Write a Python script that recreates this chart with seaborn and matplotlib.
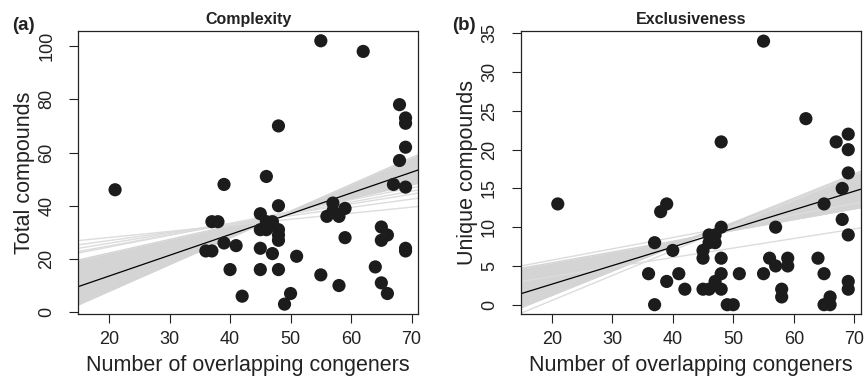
import numpy as np
import matplotlib
matplotlib.use("Agg")
import matplotlib.pyplot as plt
import seaborn as sns

# -----------------------------
# DATA
# -----------------------------
complex_x = [21, 39, 46, 48, 55, 62, 68, 69, 69, 69, 68, 67, 69, 48, 45, 46, 47,
             37, 38, 45, 46, 48, 48, 48, 39, 41, 36, 37, 45, 47, 51, 40, 45, 48,
             42, 50, 49, 55, 57, 57, 56, 58, 59, 59, 58, 65, 66, 65, 64, 65, 66,
             69, 69]
complex_y = [46, 48, 51, 70, 102, 98, 78, 73, 71, 62, 57, 48, 47, 40, 37, 34, 34,
             34, 34, 31, 31, 31, 29, 27, 26, 25, 23, 23, 24, 22, 21, 16, 16, 16,
             6, 7, 3, 14, 41, 38, 36, 36, 39, 28, 10, 32, 29, 27, 17, 11, 7,
             24, 23]

excl_x = [21, 55, 62, 48, 67, 69, 69, 69, 68, 65, 68, 69, 69, 69, 39, 38, 37, 40,
          36, 37, 39, 41, 42, 45, 46, 45, 45, 46, 47, 46, 47, 48, 48, 48, 47, 48,
          49, 50, 51, 55, 56, 57, 57, 58, 58, 59, 59, 64, 65, 65, 66, 66]
excl_y = [13, 34, 24, 21, 21, 22, 20, 17, 15, 13, 11, 9, 3, 2, 13, 12, 8, 7,
          4, 0, 3, 4, 2, 2, 2, 6, 7, 9, 9, 8, 8, 10, 6, 4, 3, 2,
          0, 0, 4, 4, 6, 10, 5, 2, 1, 6, 5, 6, 4, 0, 0, 1]

# fitted line (intercept, slope)
complex_fit = (-2.05, 0.7805)
excl_fit = (-2.16, 0.240)

# lines from the alternative fits: main band + a few stray ones
complex_band_int = [-12.29, -8.96, -5.40, -1.83, 1.73, 5.30, 8.86, 11.94]
complex_band_slope = [1.005, 0.9355, 0.864, 0.793, 0.7217, 0.650, 0.579, 0.513]
complex_stray_int = [23.5, 20.65, 18.5, 16.65, 15.56]
complex_stray_slope = [0.228, 0.312, 0.369, 0.412, 0.445]

excl_band_int = [2.625, 1.40, 0.174, -1.05, -2.28, -3.50, -5.08]
excl_band_slope = [0.139, 0.1675, 0.196, 0.2245, 0.253, 0.2815, 0.3136]
excl_stray_int = [2.82, -5.91, 1.165]
excl_stray_slope = [0.1461, 0.3225, 0.1229]

x_ticks = [20, 30, 40, 50, 60, 70]
complex_yticks = [0, 20, 40, 60, 80, 100]
excl_yticks = [0, 5, 10, 15, 20, 25, 30, 35]

XLIM = (14.92, 71.06)

# -----------------------------
# STYLE
# -----------------------------
sns.set_style("white")
plt.rcParams["font.family"] = ["Liberation Sans", "DejaVu Sans"]

BAND = "#d4d4d4"
STRAY = "#dcdcdc"
DOT = "#1c1c1c"
INK = "#222222"

fig = plt.figure(figsize=(8.66, 3.84), dpi=100)
ax_a = fig.add_axes([0.0904, 0.1823, 0.3923, 0.7378])
ax_b = fig.add_axes([0.6016, 0.1823, 0.3923, 0.7378])


def draw_panel(ax, xs, ys, fit, b_int, b_slope, s_int, s_slope,
               yticks, ylim, title, ylabel):
    grid = np.linspace(XLIM[0], XLIM[1], 200)
    band = np.array([i + s * grid for i, s in zip(b_int, b_slope)])
    ax.fill_between(grid, band.min(axis=0), band.max(axis=0),
                    color=BAND, lw=0, zorder=1)
    for i, s in zip(b_int, b_slope):
        ax.plot(grid, i + s * grid, color=BAND, lw=1, zorder=1)
    for i, s in zip(s_int, s_slope):
        ax.plot(grid, i + s * grid, color=STRAY, lw=1, zorder=1)
    ax.plot(grid, fit[0] + fit[1] * grid, color="black", lw=0.9, zorder=2)

    sns.scatterplot(x=xs, y=ys, ax=ax, s=90, color=DOT, edgecolor="none",
                    linewidth=0, zorder=3, legend=False)

    ax.set_xlim(*XLIM)
    ax.set_ylim(*ylim)
    ax.set_xticks(x_ticks)
    ax.set_yticks(yticks)
    for sp in ax.spines.values():
        sp.set_visible(True)
        sp.set_color(INK)
        sp.set_linewidth(0.9)
    ax.tick_params(axis="both", direction="out", length=6.5, width=0.8,
                   color=INK, labelsize=13, labelcolor=INK)
    ax.tick_params(axis="x", pad=6, bottom=True)
    ax.tick_params(axis="y", pad=10, left=True, labelrotation=90)
    for lbl in ax.get_yticklabels():
        lbl.set_va("center")

    ax.set_title(title, fontsize=11.5, fontweight="bold", pad=5, color=INK)
    ax.set_xlabel("Number of overlapping congeners", fontsize=15.5, color=INK)
    ax.set_ylabel(ylabel, fontsize=15.5, color=INK)
    ax.xaxis.set_label_coords(0.5, -0.145)
    ax.yaxis.set_label_coords(-0.127, 0.5)


draw_panel(ax_a, complex_x, complex_y, complex_fit,
           complex_band_int, complex_band_slope,
           complex_stray_int, complex_stray_slope,
           complex_yticks, (-0.7, 105.8), "Complexity", "Total compounds")
draw_panel(ax_b, excl_x, excl_y, excl_fit,
           excl_band_int, excl_band_slope,
           excl_stray_int, excl_stray_slope,
           excl_yticks, (-1.2, 35.35), "Exclusiveness", "Unique compounds")

fig.text(0.014, 0.934, "(a)", fontsize=13.5, fontweight="bold", va="center", color=INK)
fig.text(0.522, 0.934, "(b)", fontsize=13.5, fontweight="bold", va="center", color=INK)

fig.savefig("out.png", dpi=100)
